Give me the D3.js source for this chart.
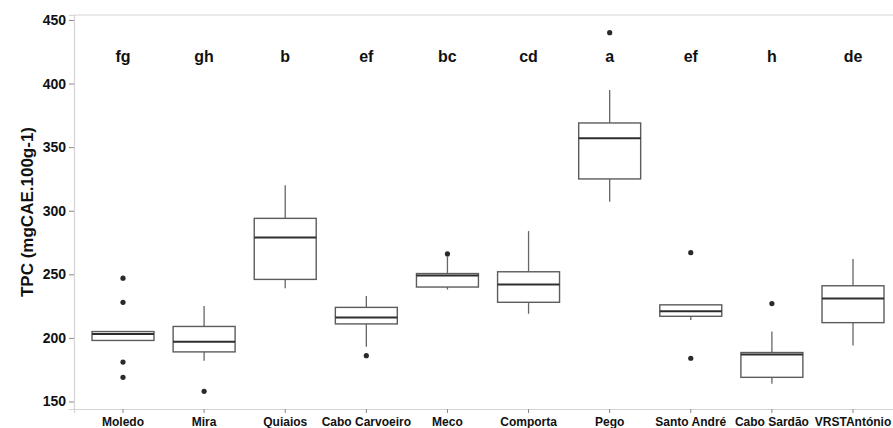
<!DOCTYPE html>
<html lang="en">
<head>
    <meta charset="UTF-8">
    <title>TPC boxplot</title>
    <script src="https://cdnjs.cloudflare.com/ajax/libs/d3/7.8.5/d3.min.js"></script>
    <style>
        * { margin: 0; padding: 0; box-sizing: border-box; }
        body { background: #fff; overflow: hidden; }
        #chart { width: 893px; height: 428px; }
        text { font-family: 'Liberation Sans', Arial, sans-serif; font-weight: bold; fill: #111; }
    </style>
</head>
<body>
    <div id="chart"></div>

    <script>
        // data
        const sites = ['Moledo', 'Mira', 'Quiaios', 'Cabo Carvoeiro', 'Meco', 'Comporta', 'Pego', 'Santo André', 'Cabo Sardão', 'VRSTAntónio'];
        const letters = ['fg', 'gh', 'b', 'ef', 'bc', 'cd', 'a', 'ef', 'h', 'de'];
        const whiskerLow = [198, 182, 239, 193, 238, 219, 307, 214, 164, 194];
        const q1 = [198, 189, 246, 211, 240, 228, 325, 217, 169, 212];
        const median = [203, 197, 279, 216, 249, 242, 357, 221, 187, 231];
        const q3 = [205, 209, 294, 224, 250.6, 252, 369, 226, 188.5, 241];
        const whiskerHigh = [205, 225, 320, 233, 264, 284, 395, 226, 205, 262];
        const outliers = [
            [247, 228, 181, 169],
            [158],
            [],
            [186],
            [266],
            [],
            [440],
            [267, 184],
            [227],
            []
        ];
        const yTicks = [150, 200, 250, 300, 350, 400, 450];
        const letterY = 421;

        const width = 893, height = 428;
        const margin = { top: 15, right: -9, bottom: 19, left: 74 };

        const svg = d3.select('#chart')
            .append('svg')
            .attr('width', width)
            .attr('height', height);

        const x = d3.scaleBand()
            .domain(sites)
            .range([margin.left, width - margin.right])
            .paddingInner(0.236)
            .paddingOuter(0.222);

        const y = d3.scaleLinear()
            .domain([144.1, 453.9])
            .range([height - margin.bottom, margin.top]);

        // panel border (top line; left and bottom come from the axes)
        const frame = '#d4d4d4';
        svg.append('line')
            .attr('x1', margin.left).attr('x2', width)
            .attr('y1', margin.top).attr('y2', margin.top)
            .attr('stroke', frame).attr('stroke-width', 1.2);

        // y axis
        const yAxis = svg.append('g')
            .attr('transform', `translate(${margin.left},0)`)
            .call(d3.axisLeft(y).tickValues(yTicks).tickSize(5).tickPadding(3));
        yAxis.select('.domain').attr('stroke', frame).attr('stroke-width', 1.2);
        yAxis.selectAll('.tick line').attr('stroke', '#888');
        yAxis.selectAll('.tick text').style('font-size', '14px').attr('fill', '#111');

        // x axis
        const xAxis = svg.append('g')
            .attr('transform', `translate(0,${height - margin.bottom})`)
            .call(d3.axisBottom(x).tickSize(4).tickPadding(4.5));
        xAxis.select('.domain').attr('stroke', frame).attr('stroke-width', 1.2);
        xAxis.selectAll('.tick line').attr('stroke', '#888');
        xAxis.selectAll('.tick text').style('font-size', '12px').attr('fill', '#111');

        // y axis title
        svg.append('text')
            .attr('transform', `translate(33,${(margin.top + height - margin.bottom) / 2}) rotate(-90)`)
            .attr('text-anchor', 'middle')
            .style('font-size', '17px')
            .text('TPC (mgCAE.100g-1)');

        const boxes = svg.append('g')
            .selectAll('g')
            .data(sites)
            .enter()
            .append('g');

        const cx = s => x(s) + x.bandwidth() / 2;

        // whiskers
        boxes.append('line')
            .attr('x1', cx).attr('x2', cx)
            .attr('y1', (s, i) => y(q3[i])).attr('y2', (s, i) => y(whiskerHigh[i]))
            .attr('stroke', '#666').attr('stroke-width', 1.3);
        boxes.append('line')
            .attr('x1', cx).attr('x2', cx)
            .attr('y1', (s, i) => y(q1[i])).attr('y2', (s, i) => y(whiskerLow[i]))
            .attr('stroke', '#666').attr('stroke-width', 1.3);

        // boxes
        boxes.append('rect')
            .attr('x', s => x(s))
            .attr('width', x.bandwidth())
            .attr('y', (s, i) => y(q3[i]))
            .attr('height', (s, i) => y(q1[i]) - y(q3[i]))
            .attr('fill', 'white')
            .attr('stroke', '#5c5c5c')
            .attr('stroke-width', 1.4);

        // medians
        boxes.append('line')
            .attr('x1', s => x(s)).attr('x2', s => x(s) + x.bandwidth())
            .attr('y1', (s, i) => y(median[i])).attr('y2', (s, i) => y(median[i]))
            .attr('stroke', '#2e2e2e').attr('stroke-width', 2);

        // outliers
        boxes.selectAll('circle')
            .data((s, i) => outliers[i].map(v => ({ s, v })))
            .enter()
            .append('circle')
            .attr('cx', d => cx(d.s))
            .attr('cy', d => y(d.v))
            .attr('r', 2.6)
            .attr('fill', '#2a2a2a');

        // significance letters
        svg.append('g')
            .selectAll('text')
            .data(sites)
            .enter()
            .append('text')
            .attr('x', cx)
            .attr('y', y(letterY))
            .attr('dy', '0.35em')
            .attr('text-anchor', 'middle')
            .style('font-size', '16px')
            .text((s, i) => letters[i]);
    </script>
</body>
</html>
